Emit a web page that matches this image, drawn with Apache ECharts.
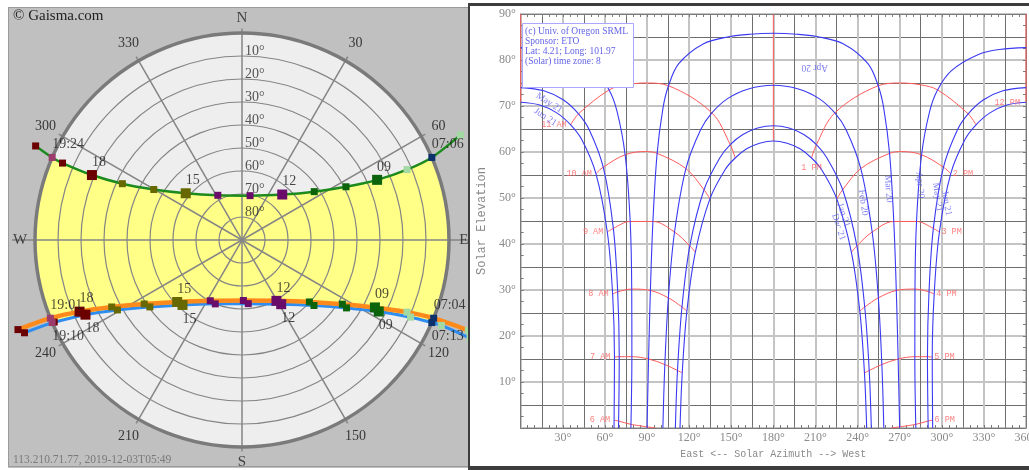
<!DOCTYPE html>
<html><head><meta charset="utf-8">
<script src="https://cdn.jsdelivr.net/npm/echarts/dist/echarts.min.js"></script>
<style>
html,body{margin:0;padding:0;background:#fff;width:1029px;height:470px;overflow:hidden}
#left{position:absolute;left:8px;top:7px;width:461px;height:461px;overflow:hidden}
#right{position:absolute;left:468px;top:0;width:600px;height:470px}
</style></head><body>
<div id="left"></div><div id="right"></div>
<script>
// ================= DATA =================
// ---- Left (Gaisma polar sun path): points are [azimuth°, altitude°] ----
const juneHours = ['06','rise','08','09','10','11','12','13','14','15','16','17','18','19','set','20'];
const junePath  = [[64.3,-15.4],[66.5,0],[66.9,12.0],[66.0,25.7],[62.9,39.2],[56.2,52.2],[41.5,63.6],[10.3,70.4],[331.6,67.9],[309.7,58.2],[299.8,45.8],[295.2,32.5],[293.4,18.9],[293.2,5.1],[293.5,0],[294.5,-8.6]];
const dec3Hours = ['06','rise','08','09','10','11','12','13','14','15','16','17','18','set','20'];
const dec3Path  = [[111.8,-16.0],[112.2,0],[113.6,11.7],[116.9,25.2],[122.6,38.2],[132.6,50.2],[150.5,59.6],[178.7,63.7],[207.6,60.2],[226.3,51.0],[236.8,39.2],[242.8,26.3],[246.2,12.8],[247.8,0],[248.2,-14.9]];
const dec21Hours = ['06','07','rise','08','09','10','11','12','13','14','15','16','17','18','19','set','20'];
const dec21Path  = [[113.3,-18.0],[113.2,-4.3],[113.5,0],[114.6,9.4],[117.6,22.9],[123.0,35.8],[132.3,47.7],[148.6,57.3],[174.4,62.2],[202.7,59.9],[222.5,51.7],[234.0,40.5],[240.7,27.9],[244.5,14.6],[246.4,0.9],[246.5,0],[246.9,-12.8]];
const juneTags  = {rise:'07:06','09':'09','12':'12','15':'15','18':'18',set:'19:24'};
const dec3Tags  = {rise:'07:04','09':'09','12':'12','15':'15','18':'18',set:'19:01'};
const dec21Tags = {rise:'07:13','09':'09','12':'12','15':'15','18':'18',set:'19:10'};
const ringAlts = [10,20,30,40,50,60,70,80];
const spokeAz = [0,30,60,90,120,150,180,210,240,270,300,330];
const azLabels = [30,60,120,150,210,240,300,330];
const compass = [['N',0],['E',90],['S',180],['W',270]];

// ---- Right (Univ. of Oregon sun chart): points are [azimuth°, elevation°] ----
const jun21Am = [[66.5,0],[66.8,15.4],[65.5,29.1],[61.7,42.6],[53.6,55.3],[43.3,62.8],[35.6,65.9],[25.7,68.5],[13.6,70.2],[0,70.8]];
const jun21Pm = [[360,70.8],[346.4,70.2],[334.3,68.5],[324.4,65.9],[316.7,62.8],[306.4,55.3],[298.3,42.6],[294.6,29.1],[293.2,15.4],[293.5,0]];
const may21Am = [[69.7,0],[70.2,15.5],[69.1,29.6],[66.0,43.4],[58.8,56.7],[48.9,64.8],[41.2,68.3],[30.5,71.3],[16.5,73.3],[0,74.0]];
const may21Pm = [[360,74.0],[343.5,73.3],[329.5,71.3],[318.8,68.3],[311.1,64.8],[301.2,56.7],[294.0,43.4],[290.9,29.6],[289.8,15.5],[290.3,0]];
const apr20Am = [[78.5,0],[79.2,15.5],[79.1,30.2],[78.0,44.9],[74.4,59.4],[68.6,68.9],[63.0,73.5],[53.1,77.7],[33.9,81.2],[18.7,82.3],[0,82.7]];
const apr20Pm = [[360,82.7],[341.3,82.3],[326.1,81.2],[306.9,77.7],[297.0,73.5],[291.4,68.9],[285.6,59.4],[282.0,44.9],[280.9,30.2],[280.8,15.5],[281.5,0]];
const mar20 = [[90,0],[91.1,15.0],[92.4,29.9],[94.2,44.9],[97.2,59.7],[101.4,69.6],[105.3,74.4],[112.6,79.2],[130.0,83.5],[149.2,85.1],[163.3,85.6],[180,85.8],[196.7,85.6],[210.8,85.1],[230.0,83.5],[247.4,79.2],[254.7,74.4],[258.6,69.6],[262.8,59.7],[265.8,44.9],[267.6,29.9],[268.9,15.0],[270,0]];
const feb20 = [[101.3,0],[102.7,13.8],[105.2,28.3],[109.6,42.6],[117.7,56.4],[128.1,64.8],[136.2,68.5],[147.4,71.6],[162.2,73.7],[180,74.5],[197.8,73.7],[212.6,71.6],[223.8,68.5],[231.9,64.8],[242.3,56.4],[250.4,42.6],[254.8,28.3],[257.3,13.8],[258.7,0]];
const jan21 = [[110.2,0],[111.7,12.5],[114.9,26.3],[120.5,39.6],[130.6,51.8],[141.8,58.7],[149.3,61.6],[158.3,63.8],[168.8,65.2],[180,65.7],[191.2,65.2],[201.7,63.8],[210.7,61.6],[218.2,58.7],[229.4,51.8],[239.5,39.6],[245.1,26.3],[248.3,12.5],[249.8,0]];
const dec21 = [[113.5,0],[115.1,12.0],[118.4,25.4],[124.4,38.2],[134.8,49.8],[145.7,56.2],[152.8,58.7],[161.0,60.7],[170.2,61.9],[180,62.4],[189.8,61.9],[199.0,60.7],[207.2,58.7],[214.3,56.2],[225.2,49.8],[235.6,38.2],[241.6,25.4],[244.9,12.0],[246.5,0]];

const h06 = [[66.6,1.7],[69.9,1.5],[78.5,0.8],[96,0]];
const h07 = [[66.8,15.4],[70.2,15.5],[79.2,15.5],[91.1,15.0],[102.7,13.8],[111.7,12.5],[115.1,12.0]];
const h08 = [[65.5,29.1],[69.1,29.6],[79.1,30.2],[92.4,29.9],[105.2,28.3],[114.9,26.3],[118.4,25.4]];
const h09 = [[61.7,42.6],[66.0,43.4],[78.0,44.9],[94.2,44.9],[109.6,42.6],[120.5,39.6],[124.4,38.2]];
const h10 = [[53.6,55.3],[58.8,56.7],[74.4,59.4],[88.9,60.1],[97.2,59.7],[117.7,56.4],[130.6,51.8],[134.8,49.8]];
const h11 = [[35.6,65.9],[41.2,68.3],[63.0,73.5],[75.0,74.6],[89.4,75.0],[105.3,74.4],[136.2,68.5],[149.3,61.6],[152.8,58.7]];
const h12s = [[180,62.4],[180,65.7],[180,74.5],[180,85.8],[180,90]];
const h12n = [[360,90],[360,82.7],[360,74.0],[360,70.8]];
const h12w = [[0,90],[0,82.7],[0,74.0],[0,70.8]];
const h13 = [[324.4,65.9],[318.8,68.3],[297.0,73.5],[285.0,74.6],[270.6,75.0],[254.7,74.4],[223.8,68.5],[210.7,61.6],[207.2,58.7]];
const h14 = [[306.4,55.3],[301.2,56.7],[285.6,59.4],[271.1,60.1],[262.8,59.7],[242.3,56.4],[229.4,51.8],[225.2,49.8]];
const h15 = [[298.3,42.6],[294.0,43.4],[282.0,44.9],[265.8,44.9],[250.4,42.6],[239.5,39.6],[235.6,38.2]];
const h16 = [[294.6,29.1],[290.9,29.6],[280.9,30.2],[267.6,29.9],[254.8,28.3],[245.1,26.3],[241.6,25.4]];
const h17 = [[293.2,15.4],[289.8,15.5],[280.8,15.5],[268.9,15.0],[257.3,13.8],[248.3,12.5],[244.9,12.0]];
const h18 = [[293.4,1.7],[290.1,1.5],[281.5,0.8],[264,0]];

const amText = ['6 AM','7 AM','8 AM','9 AM','10 AM','11 AM'];
const pmText = ['2 PM','3 PM','4 PM','5 PM','6 PM'];
const dateText = ['May 21','Jun 21','Apr 20','Jan 21','Dec 21','Feb 20','Mar 20','Apr 20','May 21','Jun 21'];
const legendLines = ['(c) Univ. of Oregon SRML','Sponsor: ETO','Lat: 4.21; Long: 101.97','(Solar) time zone: 8'];
const xTicks = [30,60,90,120,150,180,210,240,270,300,330,360];

// ================= STYLE / LAYOUT =================
const SERIF = "'Liberation Serif','Times New Roman',serif";
const MONO = "'Liberation Mono','Courier New',monospace";
const CX = 234, CY = 233, R = 207, AMIN = -20;
const markColor = {'06':'#a3d9a3','07':'#a3d9a3',rise:'#0d326b','08':'#a3d9a3','09':'#0b640b','10':'#0b640b','11':'#0b640b',
  '12':'#6a0d6a','13':'#6a0d6a','14':'#6a0d6a','15':'#686800','16':'#686800','17':'#686800','18':'#6a0000','19':'#6a0000',set:'#9c3c6c','20':'#6a0000'};
const bigMark = {'09':1,'12':1,'15':1,'18':1};
const pol = p => [p[1], p[0]];           // [az, alt] -> polar [radius(alt), angle(az)]
const dist = (a,b) => Math.hypot(a[0]-b[0], a[1]-b[1]);

// ================= LEFT CHART =================
const left = echarts.init(document.getElementById('left'));
function pathLine(path, color, width, z) {
  return {type:'line', coordinateSystem:'polar', data:path.map(pol), smooth:0.3, symbol:'none', silent:true, z,
    lineStyle:{color, width, cap:'round', join:'round'}};
}
function markers(path, hours, z) {
  return {type:'scatter', coordinateSystem:'polar', symbol:'rect', silent:true, z,
    data: path.map((p,i) => ({value:pol(p), symbolSize: bigMark[hours[i]] ? 10 : 7,
      itemStyle:{color: markColor[hours[i]], opacity:1}}))};
}
function tags(path, hours, tagMap, dy, z) {
  const data = [];
  path.forEach((p,i) => { if (tagMap[hours[i]]) data.push({value:pol(p), name:tagMap[hours[i]]}); });
  return {type:'scatter', coordinateSystem:'polar', symbolSize:0, silent:true, z, data,
    label:{show:true, position:'inside', align:'left', verticalAlign:'middle', offset:[0,dy], formatter:'{b}',
      fontFamily:SERIF, fontSize:14, color:'#1a1a1a'}};
}
left.setOption({
  animation:false,
  polar:{center:[CX,CY], radius:R*(90-AMIN)/90},
  angleAxis:{type:'value', min:0, max:360, startAngle:90, clockwise:true, show:false},
  radiusAxis:{type:'value', min:AMIN, max:90, inverse:true, show:false},
  graphic:[
    {type:'rect', z:0, shape:{x:0,y:0,width:461,height:461}, style:{fill:'#c0c0c0'}},
    {type:'rect', z:50, shape:{x:0.5,y:0.5,width:461,height:459}, style:{fill:null, stroke:'#9a9a9a', lineWidth:1}},
    {type:'text', z:50, left:5, top:2, style:{text:'© Gaisma.com', fontFamily:SERIF, fontSize:15, fill:'#222'}},
    {type:'text', z:50, left:5, top:447, style:{text:'113.210.71.77, 2019-12-03T05:49', fontFamily:SERIF, fontSize:11.5, fill:'#7a7a7a'}}
  ],
  series:[
    {type:'custom', coordinateSystem:'polar', silent:true, z:1, data:[[0,0]], renderItem:(pa,api)=>{
      const c=api.coord([90,0]), r=dist(c, api.coord([api.value(0),0]));
      return {type:'circle', shape:{cx:c[0],cy:c[1],r}, style:{fill:'#eeeeee'}};
    }},
    {type:'custom', coordinateSystem:'polar', silent:true, z:2, data:[[0,0]], renderItem:(pa,api)=>{
      const pts = junePath.map(p=>api.coord(pol(p))).concat(dec21Path.slice().reverse().map(p=>api.coord(pol(p))));
      return {type:'polygon', shape:{points:pts}, style:{fill:'#ffff88'}};
    }},
    {type:'custom', coordinateSystem:'polar', silent:true, z:3, data:[[0,0]], renderItem:(pa,api)=>{
      const c=api.coord([90,0]), r0=dist(c, api.coord([api.value(0),0]));
      return {type:'ring', shape:{cx:c[0],cy:c[1],r:r0+120,r0:r0}, style:{fill:'#c0c0c0'}};
    }},
    {type:'custom', coordinateSystem:'polar', silent:true, z:4, data:spokeAz.map(a=>[90,a]), renderItem:(pa,api)=>{
      const a=api.value(1); const ext = (a===90||a===270) ? -10 : -2;
      const c=api.coord([90,a]), e=api.coord([ext,a]);
      return {type:'line', shape:{x1:c[0],y1:c[1],x2:e[0],y2:e[1]}, style:{stroke:'#858585', lineWidth:1.5}};
    }},
    {type:'custom', coordinateSystem:'polar', silent:true, z:5, data:ringAlts.map(v=>[v,0]), renderItem:(pa,api)=>{
      const c=api.coord([90,0]), r=dist(c, api.coord([api.value(0),0]));
      return {type:'circle', shape:{cx:c[0],cy:c[1],r}, style:{fill:null, stroke:'#858585', lineWidth:1.2}};
    }},
    {type:'custom', coordinateSystem:'polar', silent:true, z:6, data:[[0,0]], renderItem:(pa,api)=>{
      const c=api.coord([90,0]), r=dist(c, api.coord([api.value(0),0]));
      return {type:'circle', shape:{cx:c[0],cy:c[1],r}, style:{fill:null, stroke:'#7a7a7a', lineWidth:3.5}};
    }},
    pathLine(dec21Path, '#2f8df0', 3, 7),
    pathLine(dec3Path, '#ff8a1c', 4.5, 8),
    pathLine(junePath, '#1c8a1c', 2.5, 9),
    markers(dec21Path, dec21Hours, 10),
    markers(dec3Path, dec3Hours, 11),
    markers(junePath, juneHours, 12),
    tags(junePath, juneHours, juneTags, -13, 13),
    tags(dec3Path, dec3Hours, dec3Tags, -13, 13),
    tags(dec21Path, dec21Hours, dec21Tags, 14, 13),
    {type:'scatter', coordinateSystem:'polar', symbolSize:0, silent:true, z:14, data:ringAlts.map(v=>({value:[v,0], name:v+'°'})),
      label:{show:true, position:'inside', align:'left', verticalAlign:'middle', offset:[3,-4.5], formatter:'{b}', fontFamily:SERIF, fontSize:14, color:'#2a2a2a'}},
    {type:'scatter', coordinateSystem:'polar', symbolSize:0, silent:true, z:14, data:azLabels.map(a=>({value:[-8.7,a], name:String(a)})),
      label:{show:true, position:'inside', formatter:'{b}', fontFamily:SERIF, fontSize:14, color:'#111'}},
    {type:'scatter', coordinateSystem:'polar', symbolSize:0, silent:true, z:14, data:compass.map(c=>({value:[-6.5,c[1]], name:c[0]})),
      label:{show:true, position:'inside', formatter:'{b}', fontFamily:SERIF, fontSize:15, color:'#222'}}
  ]
});

// ================= RIGHT CHART =================
const right = echarts.init(document.getElementById('right'));
const BLUE = '#3a3af2', RED = '#ff5a5a';
const GX = 45, GY = 14, GW = 513, GH = 414;
function curve(data, color, z, w) {
  return {type:'line', data, smooth:0.35, symbol:'none', silent:true, z, clip:true, lineStyle:{color, width:w}};
}
const dateCurves = [jun21Am,jun21Pm,may21Am,may21Pm,apr20Am,apr20Pm,mar20,feb20,jan21,dec21];
const hourCurves = [h06,h07,h08,h09,h10,h11,h12s,h12n,h12w,h13,h14,h15,h16,h17,h18];
const amLines = [h06,h07,h08,h09,h10,h11];
const pmLines = [h14,h15,h16,h17,h18];
const hourLabelData = []
  .concat(amLines.map((l,i)=>({value:l[0], name:amText[i], label:{position:'left', distance:4}})))
  .concat(pmLines.map((l,i)=>({value:l[0], name:pmText[i], label:{position:'right', distance:2}})))
  .concat([{value:h12n[h12n.length-1], name:'12 PM', label:{position:'left', distance:6}},
           {value:h13[h13.length-1], name:'1 PM', label:{position:'bottom', distance:5}}]);
const datePlace = [[20.3,70.7,-33],[17.5,67.6,-33],[209.5,78.3,180],[230,46.3,-72],[226.5,43.7,-72],[244,49.0,-82],[262,52.0,-86],[284.5,52.8,-86],[297,50.2,-82],[303.4,48.9,-80]];
const dateLabelData = dateText.map((t,i)=>({value:[datePlace[i][0],datePlace[i][1]], name:t, label:{rotate:datePlace[i][2]}}));

const axisGray = '#8a8a8a';
right.setOption({
  animation:false,
  grid:{left:GX, top:GY, width:GW, height:GH, show:false},
  xAxis:[
    {type:'value', min:0, max:360, interval:30, position:'bottom',
      axisLine:{show:true, onZero:false, lineStyle:{color:'#7a7a7a', width:1}}, axisTick:{show:false},
      axisLabel:{formatter:v=> xTicks.includes(v) ? v+'°' : '', color:axisGray, fontFamily:SERIF, fontSize:12, margin:4, showMaxLabel:true, alignMaxLabel:'center'},
      splitLine:{show:true, lineStyle:{color:'#c4c4c4', width:2}},
      minorTick:{show:false, splitNumber:2}, minorSplitLine:{show:true, lineStyle:{color:'#6e6e6e', width:1}},
      name:'East <-- Solar Azimuth --> West', nameLocation:'middle', nameGap:19,
      nameTextStyle:{fontFamily:MONO, fontSize:10, color:axisGray}},
    {type:'value', min:0, max:360, interval:5, position:'bottom',
      axisLine:{show:false}, axisTick:{show:true, inside:true, length:3, lineStyle:{color:'#7a7a7a'}}, axisLabel:{show:false}, splitLine:{show:false}},
    {type:'value', min:0, max:360, interval:5, position:'top',
      axisLine:{show:true, onZero:false, lineStyle:{color:'#7a7a7a'}}, axisTick:{show:true, inside:true, length:3, lineStyle:{color:'#7a7a7a'}}, axisLabel:{show:false}, splitLine:{show:false}}
  ],
  yAxis:[
    {type:'value', min:0, max:90, interval:10, position:'left',
      axisLine:{show:true, onZero:false, lineStyle:{color:'#7a7a7a'}}, axisTick:{show:false},
      axisLabel:{formatter:v=> v===0 ? '' : v+'°', color:axisGray, fontFamily:SERIF, fontSize:12, margin:5},
      splitLine:{show:true, lineStyle:{color:'#c4c4c4', width:2}},
      minorTick:{show:false, splitNumber:2}, minorSplitLine:{show:true, lineStyle:{color:'#6e6e6e', width:1}},
      name:'Solar Elevation', nameLocation:'middle', nameGap:27, nameRotate:90,
      nameTextStyle:{fontFamily:MONO, fontSize:12, color:axisGray}},
    {type:'value', min:0, max:90, interval:2.5, position:'left',
      axisLine:{show:false}, axisTick:{show:true, inside:true, length:3, lineStyle:{color:'#7a7a7a'}}, axisLabel:{show:false}, splitLine:{show:false}},
    {type:'value', min:0, max:90, interval:2.5, position:'right',
      axisLine:{show:true, onZero:false, lineStyle:{color:'#7a7a7a'}}, axisTick:{show:true, inside:true, length:3, lineStyle:{color:'#7a7a7a'}}, axisLabel:{show:false}, splitLine:{show:false}}
  ],
  graphic:[
    {type:'rect', z:100, shape:{x:0,y:3,width:600,height:3}, style:{fill:'#3d3d3d'}},
    {type:'rect', z:100, shape:{x:0,y:466,width:600,height:4}, style:{fill:'#3d3d3d'}},
    {type:'rect', z:100, shape:{x:0,y:3,width:2,height:467}, style:{fill:'#3d3d3d'}},
    {type:'group', z:100, left:54, top:23, children:[
      {type:'rect', z:100, shape:{x:0.5,y:0.5,width:111,height:64}, style:{fill:'#fff', stroke:'#a8a8ff', lineWidth:1}},
      ...legendLines.map((t,i)=>({type:'text', z:101, x:3, y:3+i*10, style:{text:t, fontFamily:SERIF, fontSize:9.5, fill:'#6464e6'}}))
    ]}
  ],
  series:[
    ...hourCurves.map(d=>curve(d, RED, 3, 1)),
    ...dateCurves.map(d=>curve(d, BLUE, 4, 1.1)),
    {type:'scatter', symbolSize:0, silent:true, z:5, data:hourLabelData,
      label:{show:true, formatter:'{b}', fontFamily:MONO, fontSize:8.5, color:'#ff6060'}},
    {type:'scatter', symbolSize:0, silent:true, z:5, data:dateLabelData,
      label:{show:true, position:'inside', formatter:'{b}', fontFamily:SERIF, fontSize:9.5, color:'#6060ee'}}
  ]
});
</script></body></html>
